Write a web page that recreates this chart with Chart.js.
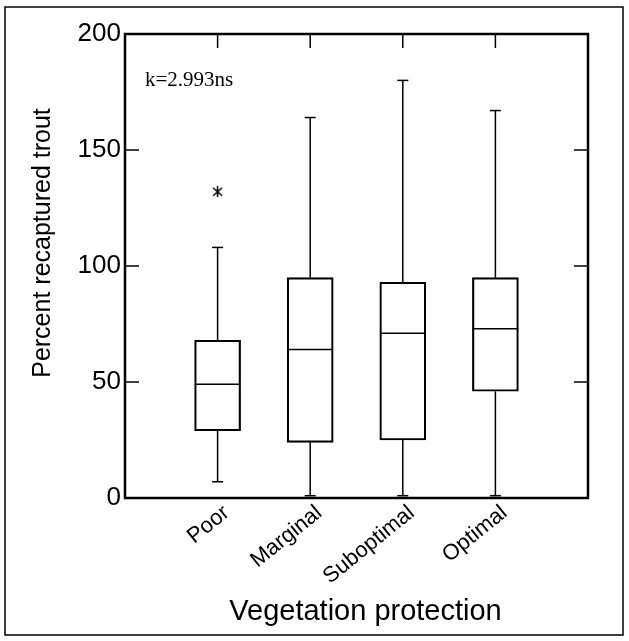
<!DOCTYPE html>
<html><head>
<meta charset="utf-8">
<title>Percent recaptured trout by vegetation protection</title>
<script src="https://cdn.jsdelivr.net/npm/chart.js@4"></script>
<style>
html, body { margin: 0; padding: 0; background: #fff; }
.chart-container { position: relative; width: 629px; height: 641px; }
</style></head><body>
<div class="chart-container"><canvas id="chart"></canvas></div>
<script>
// Box plot summary per vegetation class
const CATEGORIES = ['Poor', 'Marginal', 'Suboptimal', 'Optimal'];
const WHISKER_LOW = [7, 1, 1, 1];
const Q1 = [29, 24, 25, 46];
const MEDIAN = [49, 64, 71, 73];
const Q3 = [68, 95, 93, 95];
const WHISKER_HIGH = [108, 164, 180, 167];
const OUTLIER_CAT = [0];      // index into CATEGORIES
const OUTLIER_VALUE = [132];
const Y_TICKS = [0, 50, 100, 150, 200];
const NOTE = 'k=2.993ns';
const X_TITLE = 'Vegetation protection';
const Y_TITLE = 'Percent recaptured trout';

const SANS = '"Liberation Sans", Arial, sans-serif';

// asterisk marker for outliers (X plus a vertical stroke)
function asteriskMarker() {
  const c = document.createElement('canvas');
  c.width = 11; c.height = 11;
  const g = c.getContext('2d');
  g.strokeStyle = '#000';
  g.lineWidth = 1.5;
  g.beginPath();
  g.moveTo(1, 1.5); g.lineTo(10, 9.5);
  g.moveTo(10, 1.5); g.lineTo(1, 9.5);
  g.moveTo(5.5, 0); g.lineTo(5.5, 11);
  g.stroke();
  return c;
}

function line(ctx, x1, y1, x2, y2) {
  ctx.beginPath();
  ctx.moveTo(x1, y1);
  ctx.lineTo(x2, y2);
  ctx.stroke();
}

const outerFrame = {
  id: 'outerFrame',
  beforeDraw(chart) {
    const { ctx } = chart;
    ctx.save();
    ctx.strokeStyle = '#000';
    ctx.lineWidth = 1.5;
    ctx.strokeRect(5, 7, 618, 628);
    ctx.restore();
  }
};

const boxplotMarks = {
  id: 'boxplotMarks',
  afterDatasetsDraw(chart) {
    const { ctx, chartArea: a, scales: { x, y } } = chart;
    const bars = chart.getDatasetMeta(0).data;
    ctx.save();
    ctx.strokeStyle = '#000';
    ctx.lineWidth = 1.5;

    CATEGORIES.forEach((c, i) => {
      const px = x.getPixelForValue(i + 1);
      const half = bars[i].width / 2;
      const yMed = y.getPixelForValue(MEDIAN[i]);
      line(ctx, px - half, yMed, px + half, yMed);
      // whiskers
      line(ctx, px, y.getPixelForValue(Q3[i]), px, y.getPixelForValue(WHISKER_HIGH[i]));
      line(ctx, px, y.getPixelForValue(Q1[i]), px, y.getPixelForValue(WHISKER_LOW[i]));
      // caps
      const yHi = y.getPixelForValue(WHISKER_HIGH[i]);
      const yLo = y.getPixelForValue(WHISKER_LOW[i]);
      line(ctx, px - 5.5, yHi, px + 5.5, yHi);
      line(ctx, px - 5.5, yLo, px + 5.5, yLo);
      // inward ticks on the top edge
      line(ctx, px, a.top, px, a.top + 14);
    });

    // inward ticks on left and right edges
    Y_TICKS.forEach(v => {
      const py = y.getPixelForValue(v);
      line(ctx, a.left, py, a.left + 14, py);
      line(ctx, a.right - 14, py, a.right, py);
    });

    // plot frame
    ctx.lineWidth = 2.5;
    ctx.strokeRect(a.left, a.top, a.right - a.left, a.bottom - a.top);

    ctx.fillStyle = '#000';
    // test statistic note
    ctx.font = '21px "Liberation Serif", "Times New Roman", serif';
    ctx.textAlign = 'left';
    ctx.textBaseline = 'alphabetic';
    ctx.fillText(NOTE, a.left + 20, a.top + 52);

    // axis titles (the originals sit a little off the plot centre)
    ctx.textAlign = 'center';
    ctx.textBaseline = 'middle';
    ctx.font = '29px ' + SANS;
    ctx.fillText(X_TITLE, (a.left + a.right) / 2 + 9, 612);
    ctx.translate(43, (a.top + a.bottom) / 2 - 23);
    ctx.rotate(-Math.PI / 2);
    ctx.font = '25px ' + SANS;
    ctx.fillText(Y_TITLE, 0, 0);
    ctx.restore();
  }
};

new Chart(document.getElementById('chart'), {
  type: 'bar',
  data: {
    datasets: [{
      label: 'Interquartile range',
      data: CATEGORIES.map((c, i) => ({ x: i + 1, y: [Q1[i], Q3[i]] })),
      backgroundColor: 'rgba(255,255,255,0)',
      borderColor: '#000',
      borderWidth: 1.5,
      borderSkipped: false,
      barThickness: 46,
    }, {
      type: 'scatter',
      label: 'Outliers',
      data: OUTLIER_CAT.map((c, i) => ({ x: c + 1, y: OUTLIER_VALUE[i] })),
      pointStyle: asteriskMarker(),
      pointRadius: 5,
    }]
  },
  options: {
    responsive: true,
    maintainAspectRatio: false,
    animation: false,
    layout: { padding: { top: 34, right: 41, left: 0, bottom: 0 } },
    plugins: {
      legend: { display: false },
      tooltip: { enabled: false },
    },
    scales: {
      x: {
        type: 'linear',
        offset: false,
        min: 0,
        max: 5,
        afterBuildTicks: s => { s.ticks = CATEGORIES.map((c, i) => ({ value: i + 1 })); },
        afterFit: s => { s.height = 143; },
        grid: { display: false, drawTicks: false },
        border: { display: false },
        ticks: {
          autoSkip: false,
          minRotation: 39,
          maxRotation: 39,
          padding: 2,
          labelOffset: 9,
          color: '#000',
          font: { family: SANS, size: 22 },
          callback: v => CATEGORIES[v - 1],
        },
      },
      y: {
        min: 0,
        max: 200,
        afterBuildTicks: s => { s.ticks = Y_TICKS.map(v => ({ value: v })); },
        afterFit: s => { s.width = 125; },
        grid: { display: false, drawTicks: false },
        border: { display: false },
        ticks: {
          padding: 4,
          color: '#000',
          font: { family: SANS, size: 26 },
        },
      },
    },
  },
  plugins: [outerFrame, boxplotMarks],
});
</script>
</body></html>
